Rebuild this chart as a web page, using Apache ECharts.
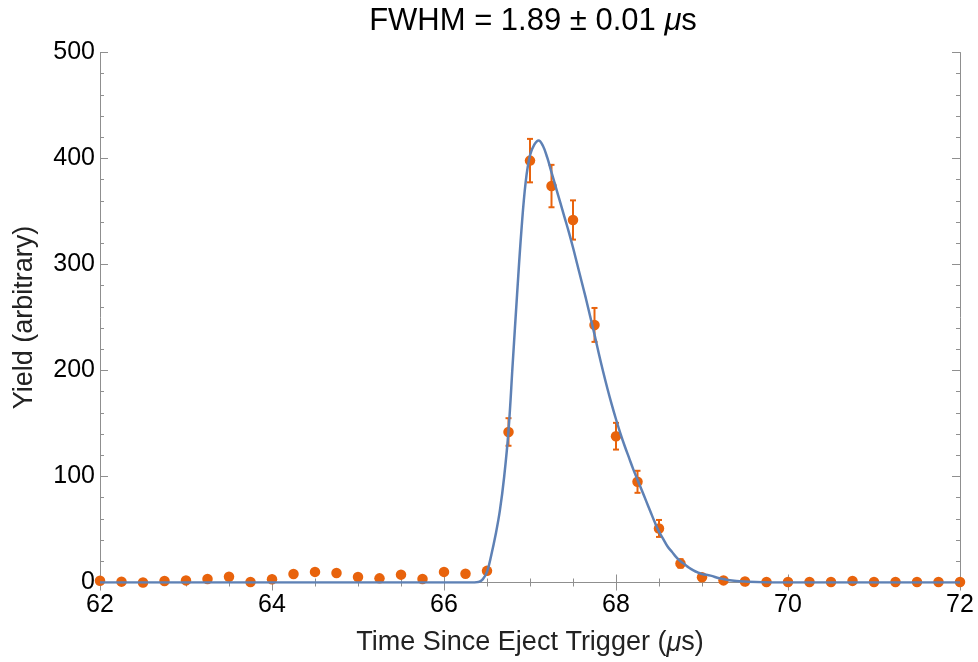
<!DOCTYPE html>
<html>
<head>
<meta charset="utf-8">
<script src="https://cdn.jsdelivr.net/npm/echarts@6/dist/echarts.min.js"></script>
<style>html,body{margin:0;padding:0;background:#fff}#c{width:978px;height:662px}</style>
</head>
<body>
<div id="c"></div>
<script>
// Measured points (time in µs, yield)
const times = [62,62.25,62.5,62.75,63,63.25,63.5,63.75,64,64.25,64.5,64.75,65,65.25,65.5,65.75,66,66.25,66.5,66.75,67,67.25,67.5,67.75,68,68.25,68.5,68.75,69,69.25,69.5,69.75,70,70.25,70.5,70.75,71,71.25,71.5,71.75,72];
const yields = [1.7,0.8,0,1.4,2,3.3,5.5,0.5,3,8,10,9,5.2,3.9,7.4,3.3,10,8.3,11,142,398,374,342,243,138,95,51,18,5,2,1,0.5,0.5,0.5,0.5,1.5,0.5,0.5,0.5,0.5,0.5];
const errors = [0,0,0,0,0,0,0,0,0,0,0,0,0,0,0,0,0,0,0,13,20.5,20,18.5,16,12.6,10.4,8,4,2,0,0,0,0,0,0,0,0,0,0,0,0];
// Fit curve
const curveT = [62,66,66.3,66.4,66.45,66.5,66.55,66.6,66.65,66.7,66.75,66.8,66.85,66.9,66.95,67,67.05,67.1,67.15,67.2,67.25,67.3,67.35,67.4,67.45,67.5,67.55,67.6,67.65,67.7,67.75,67.8,67.85,67.9,67.95,68,68.05,68.1,68.15,68.2,68.25,68.3,68.35,68.4,68.45,68.5,68.55,68.6,68.65,68.7,68.75,68.8,68.85,68.9,68.95,69,69.1,69.2,69.3,69.4,69.5,69.7,70,72];
const curveY = [0,0,0,0.5,3,10,26,45,68,100,143,208,272,332,378,403,413,417,412,401,387,373,359,345,331,316,300,284,268,251,234,216,199,183,168,154,141,129,118,107,97,87,77,67,57,48,41,34,29,24,20,17,14,11.5,9.5,8,6.5,4,2.4,1.4,0.9,0.3,0.1,0];
const xTicks = {min: 62, max: 72, interval: 2};
const yTicks = {min: 0, max: 500, interval: 100};

const orange = '#E8630C';
const blue = '#5E81B5';
const frame = '#8f8f8f';
const font = 'Liberation Sans, Arial, sans-serif';

const pts = times.map((t, i) => [t, yields[i]]);
const errData = times.map((t, i) => [t, yields[i], errors[i]]).filter(d => d[2] > 0);
const curve = curveT.map((t, i) => [t, curveY[i]]);

function axisCommon(showLabel) {
  return {
    type: 'value',
    axisLine: {show: true, lineStyle: {color: frame, width: 1}},
    axisTick: {show: true, inside: true, length: 8, lineStyle: {color: frame}},
    splitLine: {show: false},
    axisLabel: {show: showLabel, color: '#000', fontSize: 25, fontFamily: font}
  };
}

const chart = echarts.init(document.getElementById('c'));
chart.setOption({
  animation: false,
  backgroundColor: '#fff',
  title: {
    text: '{a|FWHM = 1.89 ± 0.01 }{i|μ}{a|s}',
    left: 528, top: 1, textAlign: 'center',
    textStyle: {rich: {
      a: {fontSize: 31, fontFamily: font, fontWeight: 'normal', color: '#000'},
      i: {fontSize: 31, fontFamily: font, fontWeight: 'normal', fontStyle: 'italic', color: '#000'}
    }}
  },
  grid: {left: 100, right: 18, top: 52.5, bottom: 79.5},
  xAxis: [
    Object.assign(axisCommon(true), {
      position: 'bottom', min: xTicks.min, max: xTicks.max, interval: xTicks.interval,
      minorTick: {show: true, splitNumber: 4, length: 4, lineStyle: {color: frame}},
      axisLabel: {show: true, color: '#000', fontSize: 25, fontFamily: font, margin: 10},
      name: '{a|Time Since Eject Trigger (}{i|μ}{a|s)}',
      nameLocation: 'middle', nameGap: 47,
      nameTextStyle: {rich: {
        a: {fontSize: 27, fontFamily: font, color: '#222'},
        i: {fontSize: 27, fontFamily: font, fontStyle: 'italic', color: '#222'}
      }}
    }),
    Object.assign(axisCommon(false), {
      position: 'top', min: xTicks.min, max: xTicks.max, interval: xTicks.interval,
      minorTick: {show: true, splitNumber: 4, length: 4, lineStyle: {color: frame}}
    })
  ],
  yAxis: [
    Object.assign(axisCommon(true), {
      position: 'left', min: yTicks.min, max: yTicks.max, interval: yTicks.interval,
      minorTick: {show: true, splitNumber: 5, length: 4, lineStyle: {color: frame}},
      axisLabel: {show: true, color: '#000', fontSize: 25, fontFamily: font, margin: 5},
      name: 'Yield (arbitrary)', nameLocation: 'middle', nameGap: 62,
      nameTextStyle: {fontSize: 27, fontFamily: font, color: '#222'}
    }),
    Object.assign(axisCommon(false), {
      position: 'right', min: yTicks.min, max: yTicks.max, interval: yTicks.interval,
      minorTick: {show: true, splitNumber: 5, length: 4, lineStyle: {color: frame}}
    })
  ],
  series: [
    {
      type: 'scatter', data: pts, symbol: 'circle', symbolSize: 10.5,
      itemStyle: {color: orange, opacity: 1}, z: 3
    },
    {
      type: 'custom', data: errData, z: 4,
      renderItem: function (params, api) {
        const x = api.value(0), y = api.value(1), e = api.value(2);
        const top = api.coord([x, y + e]);
        const bot = api.coord([x, y - e]);
        const w = 3;
        const st = {stroke: orange, lineWidth: 2};
        return {type: 'group', children: [
          {type: 'line', shape: {x1: top[0], y1: top[1], x2: bot[0], y2: bot[1]}, style: st},
          {type: 'line', shape: {x1: top[0] - w, y1: top[1], x2: top[0] + w, y2: top[1]}, style: st},
          {type: 'line', shape: {x1: bot[0] - w, y1: bot[1], x2: bot[0] + w, y2: bot[1]}, style: st}
        ]};
      }
    },
    {
      type: 'line', data: curve, showSymbol: false, smooth: 0.4,
      lineStyle: {color: blue, width: 2.5}, z: 5
    }
  ]
});
</script>
</body>
</html>
